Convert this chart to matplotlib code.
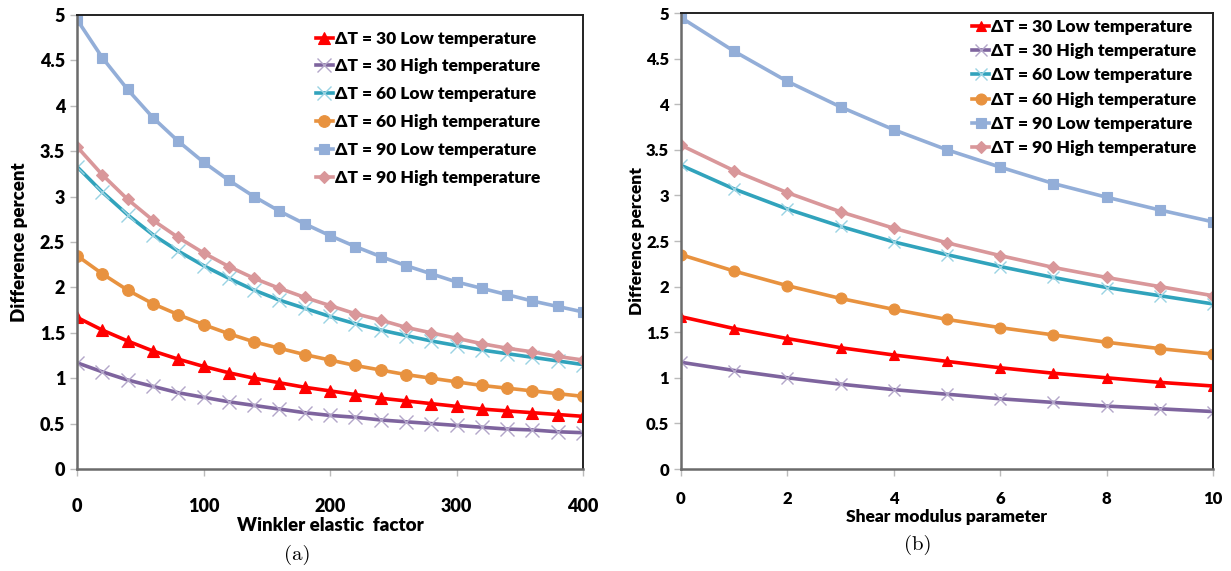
import matplotlib
matplotlib.use("Agg")
import matplotlib.pyplot as plt
import numpy as np

# ---- data ----
winkler = list(range(0, 401, 20))
shear = list(range(0, 11))

labels = ["ΔT = 30 Low temperature", "ΔT = 30 High temperature",
          "ΔT = 60 Low temperature", "ΔT = 60 High temperature",
          "ΔT = 90 Low temperature", "ΔT = 90 High temperature"]

a_30_low = [1.67, 1.53, 1.41, 1.30, 1.21, 1.13, 1.06, 1.00, 0.95, 0.90, 0.86,
            0.82, 0.78, 0.75, 0.72, 0.69, 0.66, 0.64, 0.62, 0.60, 0.58]
a_30_high = [1.17, 1.07, 0.98, 0.91, 0.84, 0.79, 0.74, 0.70, 0.66, 0.62, 0.59,
             0.57, 0.54, 0.52, 0.50, 0.48, 0.46, 0.44, 0.43, 0.41, 0.40]
a_60_low = [3.33, 3.05, 2.80, 2.58, 2.40, 2.24, 2.10, 1.97, 1.86, 1.77, 1.68,
            1.60, 1.53, 1.47, 1.41, 1.36, 1.31, 1.27, 1.23, 1.19, 1.15]
a_60_high = [2.35, 2.15, 1.97, 1.82, 1.70, 1.59, 1.49, 1.40, 1.33, 1.26, 1.20,
             1.14, 1.09, 1.04, 1.00, 0.96, 0.92, 0.89, 0.86, 0.83, 0.80]
a_90_low = [4.95, 4.53, 4.18, 3.87, 3.61, 3.38, 3.18, 3.00, 2.84, 2.70, 2.57,
            2.45, 2.34, 2.24, 2.15, 2.06, 1.99, 1.92, 1.85, 1.79, 1.73]
a_90_high = [3.55, 3.24, 2.97, 2.74, 2.55, 2.38, 2.23, 2.10, 1.99, 1.89, 1.80,
             1.71, 1.64, 1.56, 1.50, 1.44, 1.38, 1.33, 1.29, 1.24, 1.20]

b_30_low = [1.67, 1.54, 1.43, 1.33, 1.25, 1.18, 1.11, 1.05, 1.00, 0.95, 0.91]
b_30_high = [1.17, 1.08, 1.00, 0.93, 0.87, 0.82, 0.77, 0.73, 0.69, 0.66, 0.63]
b_60_low = [3.33, 3.07, 2.85, 2.66, 2.49, 2.35, 2.22, 2.10, 1.99, 1.90, 1.81]
b_60_high = [2.35, 2.17, 2.01, 1.87, 1.75, 1.64, 1.55, 1.47, 1.39, 1.32, 1.26]
b_90_low = [4.95, 4.58, 4.25, 3.97, 3.72, 3.50, 3.31, 3.13, 2.98, 2.84, 2.71]
b_90_high = [3.55, 3.27, 3.03, 2.82, 2.64, 2.48, 2.34, 2.21, 2.10, 2.00, 1.90]

y_ticks = [0, 0.5, 1, 1.5, 2, 2.5, 3, 3.5, 4, 4.5, 5]
y_ticklabels = ["0", "0.5", "1", "1.5", "2", "2.5", "3", "3.5", "4", "4.5", "5"]
xa_ticks = [0, 100, 200, 300, 400]
xb_ticks = [0, 2, 4, 6, 8, 10]

# ---- styles ----
styles = [
    dict(color="#FF0000", marker="^", mfc="#FF0000", mec="#FF0000", lw=2.6),
    dict(color="#7E649E", marker="x", mfc="none", mec="#B3A6C9", lw=2.6),
    dict(color="#31A3BC", marker="x", mfc="none", mec="#9AD3E3", lw=2.6),
    dict(color="#E8923F", marker="o", mfc="#E8923F", mec="#E8923F", lw=2.6),
    dict(color="#93AED8", marker="s", mfc="#93AED8", mec="#93AED8", lw=2.6),
    dict(color="#D9979A", marker="D", mfc="#D9979A", mec="#D9979A", lw=2.6),
]

FONT = ["Lato", "DejaVu Sans"]
plt.rcParams["font.family"] = FONT

fig = plt.figure(figsize=(12.31, 5.71), dpi=100)
ax1 = fig.add_axes([77 / 1231, 1 - 469 / 571, (583 - 77) / 1231, (469 - 15) / 571])
ax2 = fig.add_axes([681 / 1231, 1 - 469 / 571, (1213 - 681) / 1231, (469 - 13) / 571])


def draw(ax, x, series, ms, lfs, tfs, labfs, xpad, xlabpad, xlab, xt, leg_kw):
    sizes = [ms * 1.05, ms * 1.2, ms * 1.2, ms * 1.05, ms * 0.95, ms * 0.8]
    for y, lab, st, s in zip(series, labels, styles, sizes):
        mew = 1.0 if st["marker"] == "x" else 0.8
        ax.plot(x, y, label=lab, color=st["color"], lw=st["lw"],
                marker=st["marker"], ms=s, mfc=st["mfc"], mec=st["mec"],
                mew=mew)
    ax.set_xlim(x[0], x[-1])
    ax.set_ylim(0, 5)
    ax.set_yticks(y_ticks)
    ax.set_yticklabels(y_ticklabels)
    ax.set_xticks(xt)
    for sp in ["left", "bottom"]:
        ax.spines[sp].set_color("#6B6B6B")
        ax.spines[sp].set_linewidth(1.8)
    for sp in ["top", "right"]:
        ax.spines[sp].set_color("#222222")
        ax.spines[sp].set_linewidth(1.4)
    ax.tick_params(axis="both", direction="out", length=5, color="#BBBBBB",
                   width=1, labelsize=tfs)
    ax.tick_params(axis="x", pad=xpad)
    for t in ax.get_xticklabels() + ax.get_yticklabels():
        t.set_fontweight("heavy")
    ax.set_xlabel(xlab, fontsize=labfs, fontweight="heavy", labelpad=xlabpad)
    ax.set_ylabel("Difference percent", fontsize=labfs, fontweight="heavy")
    leg = ax.legend(frameon=False, prop=dict(weight="heavy", size=lfs),
                    handlelength=1.0, handletextpad=0.1, **leg_kw)
    return leg


draw(ax1, winkler, [a_30_low, a_30_high, a_60_low, a_60_high, a_90_low, a_90_high],
     ms=8, lfs=12.5, tfs=13, labfs=13.5, xpad=16, xlabpad=1,
     xlab="Winkler elastic  factor", xt=xa_ticks,
     leg_kw=dict(loc="upper right", bbox_to_anchor=(0.946, 1.0), labelspacing=0.68))
draw(ax2, shear, [b_30_low, b_30_high, b_60_low, b_60_high, b_90_low, b_90_high],
     ms=7.5, lfs=12.5, tfs=12, labfs=12.5, xpad=11, xlabpad=1,
     xlab="Shear modulus parameter", xt=xb_ticks,
     leg_kw=dict(loc="upper right", bbox_to_anchor=(0.998, 1.022), labelspacing=0.48))

ax1.yaxis.set_label_coords(-0.097, 0.5)
ax2.yaxis.set_label_coords(-0.068, 0.5)

fig.text(297 / 1231, 1 - 555 / 571, "(a)", family="cmr10", fontsize=15,
         ha="center", va="center")
fig.text(918 / 1231, 1 - 545 / 571, "(b)", family="cmr10", fontsize=15,
         ha="center", va="center")

fig.savefig("out.png", dpi=100)
